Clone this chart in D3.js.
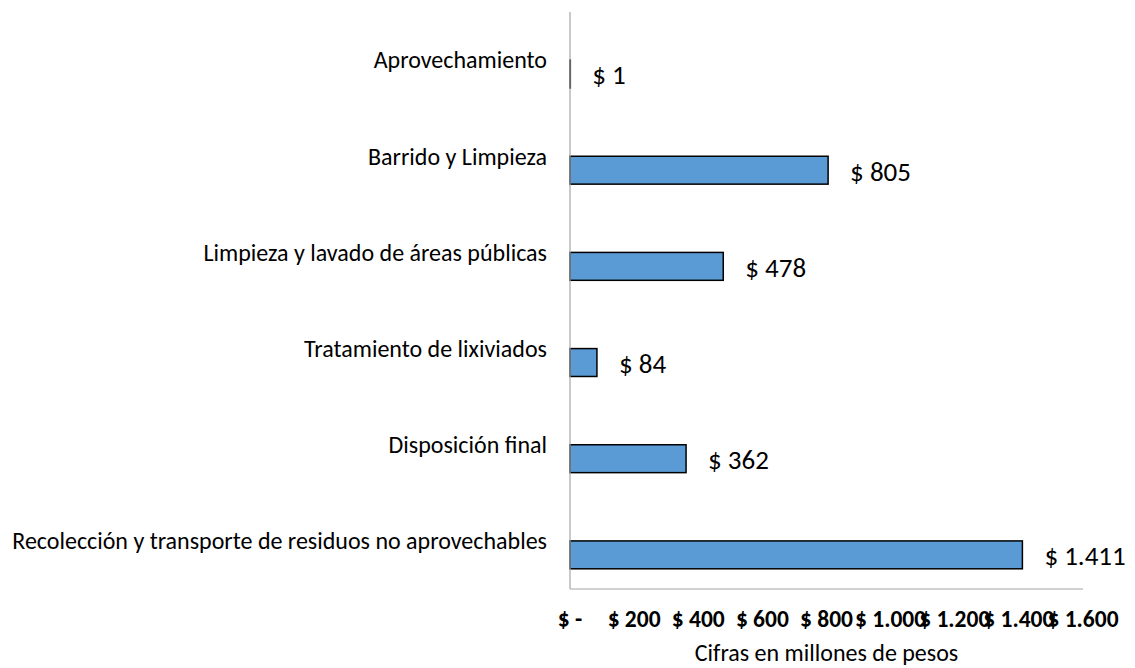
<!DOCTYPE html>
<html>

<head>
  <meta charset="utf-8">
  <script src="https://cdn.jsdelivr.net/npm/d3@7/dist/d3.min.js"></script>
  <style>
    body {
      margin: 0;
      background: white;
    }

    svg text {
      font-family: Carlito, Calibri, Lato, sans-serif;
      fill: #000;
    }
  </style>
</head>

<body>
  <script>
    const categories = [
      'Aprovechamiento',
      'Barrido y Limpieza',
      'Limpieza y lavado de áreas públicas',
      'Tratamiento de lixiviados',
      'Disposición final',
      'Recolección y transporte de residuos no aprovechables'
    ]
    const values = [1, 805, 478, 84, 362, 1411]
    const valueLabels = ['$ 1', '$ 805', '$ 478', '$ 84', '$ 362', '$ 1.411']
    const tickValues = [0, 200, 400, 600, 800, 1000, 1200, 1400, 1600]
    const tickLabels = ['$ -', '$ 200', '$ 400', '$ 600', '$ 800', '$ 1.000', '$ 1.200', '$ 1.400', '$ 1.600']
    const axisTitle = 'Cifras en millones de pesos'

    const width = 1135
    const height = 668
    const plotLeft = 570, plotRight = 1083, plotTop = 12, plotBottom = 589

    const svg = d3.select('body').append('svg')
      .attr('width', width)
      .attr('height', height)

    const x = d3.scaleLinear().domain([0, 1600]).range([plotLeft, plotRight])
    const y = d3.scaleBand().domain(categories).range([plotTop, plotBottom]).paddingInner(0)
    const barH = y.bandwidth() * 0.29

    // bars sit just below the centre of each band (empty second series in the original)
    svg.selectAll('rect.bar')
      .data(values)
      .join('rect')
      .attr('class', 'bar')
      .attr('x', x(0))
      .attr('y', (d, i) => y(categories[i]) + y.bandwidth() / 2)
      .attr('width', d => x(d) - x(0))
      .attr('height', barH)
      .attr('fill', '#5b9bd5')
      .attr('stroke', '#000')
      .attr('stroke-width', 1.5)

    // axes lines
    svg.append('line')
      .attr('x1', x(0)).attr('x2', x(0))
      .attr('y1', plotTop).attr('y2', plotBottom)
      .attr('stroke', '#a6a6a6').attr('stroke-width', 1.2)
    svg.append('line')
      .attr('x1', x(0)).attr('x2', plotRight)
      .attr('y1', plotBottom).attr('y2', plotBottom)
      .attr('stroke', '#a6a6a6').attr('stroke-width', 1.2)

    // category labels
    svg.selectAll('text.cat')
      .data(categories)
      .join('text')
      .attr('class', 'cat')
      .attr('x', plotLeft - 23)
      .attr('y', d => y(d) + y.bandwidth() / 2)
      .attr('dy', '0.35em')
      .attr('text-anchor', 'end')
      .attr('font-size', 24)
      .text(d => d)

    // value labels
    svg.selectAll('text.val')
      .data(values)
      .join('text')
      .attr('class', 'val')
      .attr('x', d => x(d) + 22)
      .attr('y', (d, i) => y(categories[i]) + y.bandwidth() / 2 + barH / 2 + 1)
      .attr('dy', '0.35em')
      .attr('font-size', 27)
      .text((d, i) => valueLabels[i])

    // x tick labels
    svg.selectAll('text.tick')
      .data(tickValues)
      .join('text')
      .attr('class', 'tick')
      .attr('x', d => x(d))
      .attr('y', 619)
      .attr('dy', '0.35em')
      .attr('text-anchor', 'middle')
      .attr('font-size', 23.5)
      .attr('font-weight', 'bold')
      .text((d, i) => tickLabels[i])

    svg.append('text')
      .attr('x', (plotLeft + plotRight) / 2)
      .attr('y', 653)
      .attr('dy', '0.35em')
      .attr('text-anchor', 'middle')
      .attr('font-size', 24)
      .text(axisTitle)
  </script>
</body>

</html>
